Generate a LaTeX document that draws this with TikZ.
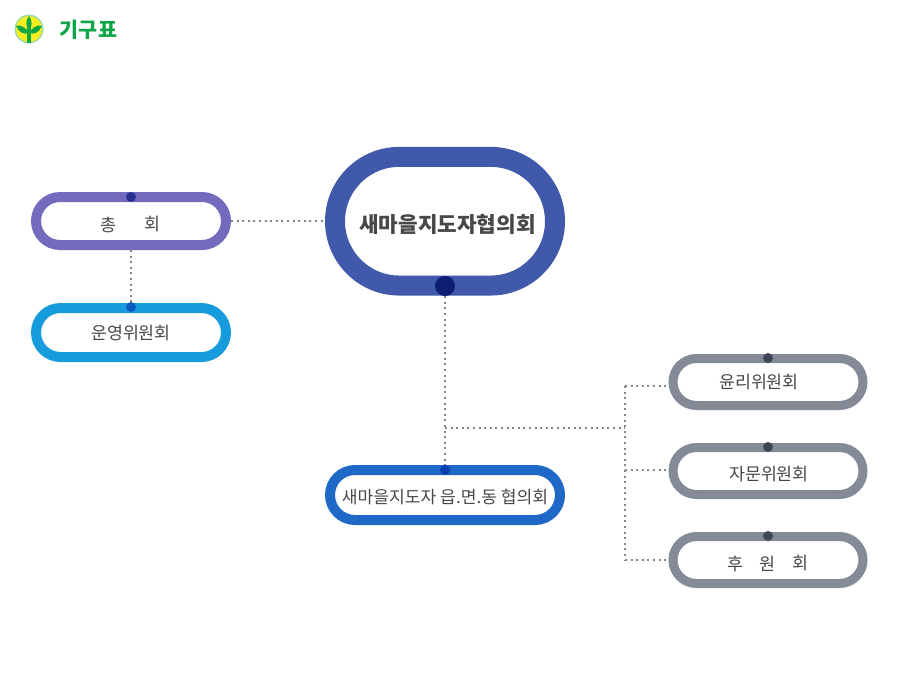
\documentclass[tikz,border=0pt]{standalone}
\usepackage{fontspec}
\setmainfont{Noto Sans CJK KR}
\usetikzlibrary{shapes.misc}
\definecolor{txt}{HTML}{484848}
\definecolor{dotline}{HTML}{85858F}
\definecolor{cMain}{HTML}{4059AB}
\definecolor{cMainDot}{HTML}{0F1D73}
\definecolor{cGen}{HTML}{736BBD}
\definecolor{cGenDot}{HTML}{2B2F90}
\definecolor{cOp}{HTML}{169BDD}
\definecolor{cOpDot}{HTML}{0A5AC0}
\definecolor{cLoc}{HTML}{1E69C8}
\definecolor{cLocDot}{HTML}{0A3FB0}
\definecolor{cSub}{HTML}{848A96}
\definecolor{cSubDot}{HTML}{3F4657}
\definecolor{logoG}{HTML}{0DA546}
\definecolor{logoY}{HTML}{F7EE1E}
\definecolor{logoR}{HTML}{9ADBA8}
\tikzset{
  x=0.75pt,y=-0.75pt,
  pill/.style={rounded rectangle,draw=#1,fill=white,inner sep=0pt,outer sep=0.5\pgflinewidth},
  ringfat/.style={line width=15pt},
  ringmid/.style={line width=7.5pt},
  ringthin/.style={line width=6.75pt},
  hub/.style={circle,fill=#1,inner sep=0pt,minimum size=7.5pt},
  lab/.style={text=txt,font=\fontsize{13}{15}\selectfont,inner sep=0pt},
  link/.style={draw=dotline,line width=1.4pt,dash pattern=on 1.5pt off 2.7pt},
}
\begin{document}
\begin{tikzpicture}
\useasboundingbox[fill=white] (0,0) rectangle (900,700);
% logo
\fill[logoR] (29,29) circle[radius=14.5];
\fill[logoY] (29,29) circle[radius=13];
\fill[logoG] (27.4,24) rectangle (30.6,42.5);
\fill[logoG] (29,16) .. controls (25,21) and (26,27) .. (29,31) .. controls (32,27) and (33,21) .. (29,16);
\fill[logoG] (16,26) .. controls (21,24) and (26,28) .. (29,33) .. controls (23,35) and (19,32) .. (16,26);
\fill[logoG] (42,26) .. controls (37,24) and (32,28) .. (29,33) .. controls (35,35) and (39,32) .. (42,26);
\node[text=logoG,font=\fontsize{15.5}{17}\selectfont\bfseries,inner sep=0pt] (title) at (88.5,30) {기구표};
% boxes
\node[pill=cMain,ringfat,minimum width=165pt,minimum height=96.5pt] (main) at (445,221.2) {};
\node[pill=cGen,ringmid,minimum width=142.5pt,minimum height=36pt] (gen) at (131,221) {};
\node[pill=cOp,ringmid,minimum width=142.5pt,minimum height=36.75pt] (op) at (131,332.5) {};
\node[pill=cLoc,ringmid,minimum width=172.5pt,minimum height=37.5pt] (loc) at (445,495) {};
\node[pill=cSub,ringthin,minimum width=142.5pt,minimum height=35.25pt] (ethics) at (768,382) {};
\node[pill=cSub,ringthin,minimum width=142.5pt,minimum height=35.25pt] (advice) at (768,471) {};
\node[pill=cSub,ringthin,minimum width=142.5pt,minimum height=35.25pt] (support) at (768,560) {};
% hubs
\node[hub=cMainDot,minimum size=15pt] (mainhub) at (445,286) {};
\node[hub=cGenDot] (genhub) at (131,197) {};
\node[hub=cOpDot] (ophub) at (131,307) {};
\node[hub=cLocDot] (lochub) at (445,470) {};
\node[hub=cSubDot] (ethicshub) at (768,358) {};
\node[hub=cSubDot] (advicehub) at (768,447) {};
\node[hub=cSubDot] (supporthub) at (768,536) {};
% labels
\node[lab,font=\fontsize{16}{18}\selectfont\bfseries] (maint) at (447.5,224) {새마을지도자협의회};
\node[lab] (gent1) at (108,224.5) {총};
\node[lab] (gent2) at (152.5,224.5) {회};
\node[lab] (opt) at (131,333.5) {운영위원회};
\node[lab,font=\fontsize{12.85}{15}\selectfont] (loct) at (445,497.5) {새마을지도자 읍.면.동 협의회};
\node[lab] (ethicst) at (759,382.5) {윤리위원회};
\node[lab] (advicet) at (769,474.5) {자문위원회};
\node[lab] (supt1) at (735,563.5) {후};
\node[lab] (supt2) at (767.5,563.5) {원};
\node[lab] (supt3) at (800,563.5) {회};
% connectors
\coordinate (busT) at (625,386);
\coordinate (busM) at (625,428);
\coordinate (busA) at (625,470);
\coordinate (busB) at (625,560);
\draw[link] (gen.east) -- (gen.east -| main.west);
\draw[link] (gen.south) -- (ophub.north);
\draw[link] (mainhub.south) -- (lochub.north);
\draw[link] (mainhub |- busM) -- (busM);
\draw[link] (busT) -- (busB);
\draw[link] (busT) -- (busT -| ethics.west);
\draw[link] (busA) -- (busA -| advice.west);
\draw[link] (busB) -- (busB -| support.west);
\end{tikzpicture}
\end{document}
